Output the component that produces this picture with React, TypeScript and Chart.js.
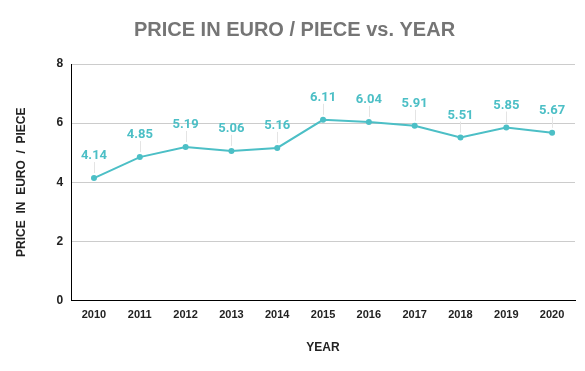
import React, { useEffect, useRef } from "react";
import { Chart, registerables } from "chart.js";

Chart.register(...registerables);

const years = ["2010", "2011", "2012", "2013", "2014", "2015", "2016", "2017", "2018", "2019", "2020"];
const prices = [4.14, 4.85, 5.19, 5.06, 5.16, 6.11, 6.04, 5.91, 5.51, 5.85, 5.67];
const yTicks = [0, 2, 4, 6, 8];

const teal = "#4cbfc6";

const labelPlugin = {
  id: "pointLabels",
  afterDatasetsDraw(chart: any) {
    const ctx = chart.ctx;
    const meta = chart.getDatasetMeta(0);
    ctx.save();
    meta.data.forEach((pt: any, i: number) => {
      const x = pt.x;
      const y = pt.y;
      ctx.strokeStyle = "#e4e4e4";
      ctx.lineWidth = 1;
      ctx.beginPath();
      ctx.moveTo(Math.round(x) + 0.5, y - 5);
      ctx.lineTo(Math.round(x) + 0.5, y - 16);
      ctx.stroke();
      ctx.fillStyle = teal;
      ctx.font = "bold 13px Roboto";
      ctx.textAlign = "center";
      ctx.textBaseline = "alphabetic";
      ctx.fillText(prices[i].toFixed(2), x, y - 19);
    });
    ctx.restore();
  },
};

export default function App() {
  const ref = useRef<HTMLCanvasElement>(null);
  useEffect(() => {
    if (!ref.current) return;
    const chart = new Chart(ref.current, {
      type: "line",
      data: {
        labels: years,
        datasets: [
          {
            data: prices,
            borderColor: teal,
            backgroundColor: teal,
            borderWidth: 2,
            pointRadius: 3,
            pointBorderWidth: 0,
            pointHoverRadius: 3,
            tension: 0,
          },
        ],
      },
      options: {
        animation: false,
        responsive: false,
        layout: { padding: { left: 14, right: 10, top: 12, bottom: 16 } },
        plugins: {
          legend: { display: false },
          tooltip: { enabled: false },
          title: {
            display: true,
            text: "PRICE IN EURO / PIECE vs. YEAR",
            color: "#757575",
            font: { family: "Liberation Sans", size: 20, weight: "bold" },
            padding: { top: 6, bottom: 22 },
          },
        },
        scales: {
          x: {
            offset: true,
            grid: { display: true, color: "rgba(0,0,0,0)", drawTicks: false, offset: false },
            border: { display: true, color: "#000", width: 1 },
            ticks: {
              color: "#222",
              font: { family: "Liberation Sans", size: 11, weight: "bold" },
              padding: 8,
              maxRotation: 0,
            },
            title: {
              display: true,
              text: "YEAR",
              color: "#222",
              font: { family: "Liberation Sans", size: 12, weight: "bold" },
              padding: { top: 11, bottom: 0 },
            },
          },
          y: {
            min: 0,
            max: 8,
            afterBuildTicks: (axis: any) => {
              axis.ticks = yTicks.map((v) => ({ value: v }));
            },
            grid: { color: "#cccccc", drawTicks: false },
            border: { display: true, color: "#000", width: 1 },
            ticks: {
              color: "#222",
              font: { family: "Liberation Sans", size: 12, weight: "bold" },
              padding: 8,
            },
            title: {
              display: true,
              text: "PRICE  IN  EURO  /  PIECE",
              color: "#222",
              font: { family: "Liberation Sans", size: 12, weight: "bold" },
              padding: { top: 0, bottom: 20 },
            },
          },
        },
      },
      plugins: [labelPlugin],
    });
    return () => chart.destroy();
  }, []);
  return (
    <div style={{ position: "fixed", left: 0, top: 0, width: 585, height: 371, background: "#fff" }}>
      <canvas ref={ref} width={585} height={371} style={{ width: 585, height: 371 }} />
    </div>
  );
}
